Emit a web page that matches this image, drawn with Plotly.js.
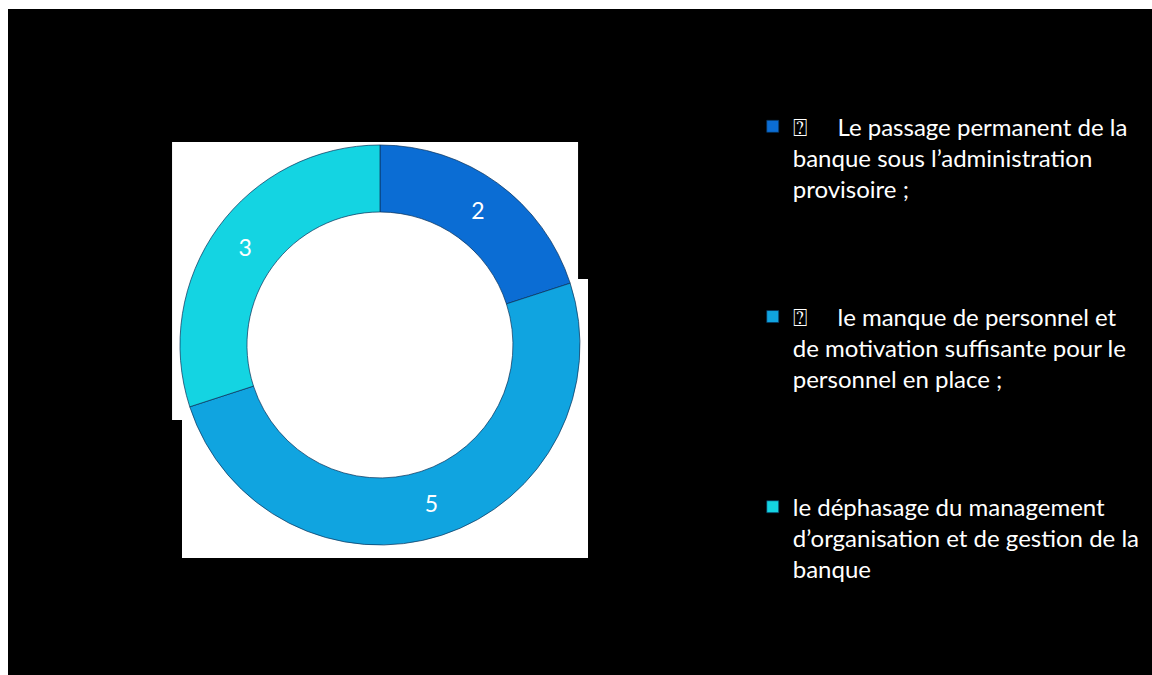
<!DOCTYPE html>
<html>
<head>
<meta charset="utf-8">
<script src="https://cdn.plot.ly/plotly-3.0.1.min.js"></script>
<style>
  html, body { margin: 0; padding: 0; background: #ffffff; }
  #chart { position: absolute; left: 8px; top: 9px; width: 1144px; height: 666px; }
</style>
</head>
<body>
<div id="chart"></div>
<script>
// Data
const categories = [
  "\u2370\u00A0\u00A0\u00A0\u00A0\u00A0Le passage permanent de la<br>banque sous l\u2019administration<br>provisoire ;",
  "\u2370\u00A0\u00A0\u00A0\u00A0\u00A0le manque de personnel et<br>de motivation suffisante pour le<br>personnel en place ;",
  "le d\u00E9phasage du management<br>d\u2019organisation et de gestion de la<br>banque"
];
const values = [2, 5, 3];
const sliceColors = ["#0b6dd4", "#10a4e0", "#14d4e2"];
const legendPad = "<br>\u00A0<br>\u00A0<br>\u00A0";

const trace = {
  type: "pie",
  labels: categories.map((c, i) => i < categories.length - 1 ? c + legendPad : c),
  values: values,
  text: values.map(String),
  textinfo: "text",
  textposition: "inside",
  insidetextorientation: "horizontal",
  textfont: { family: "Lato, 'Open Sans', sans-serif", size: 23, color: "#ffffff" },
  hole: 0.665,
  sort: false,
  direction: "clockwise",
  rotation: 0,
  marker: { colors: sliceColors, line: { color: "rgba(10,50,90,0.7)", width: 1 } },
  domain: { x: [0.1503, 0.5], y: [0.1952, 0.7958] },
  hoverinfo: "label+value"
};

const layout = {
  width: 1144,
  height: 666,
  margin: { l: 0, r: 0, t: 0, b: 0, autoexpand: false },
  paper_bgcolor: "#000000",
  plot_bgcolor: "#000000",
  showlegend: true,
  legend: {
    x: 0.651, xanchor: "left",
    y: 0.857, yanchor: "top",
    valign: "top",
    bgcolor: "rgba(0,0,0,0)",
    font: { family: "Lato, 'Open Sans', sans-serif", size: 24, color: "#ffffff" },
    tracegroupgap: 0
  },
  shapes: [
    { type: "rect", xref: "paper", yref: "paper", layer: "below",
      x0: 0.1434, x1: 0.4983, y0: 0.3829, y1: 0.8003,
      fillcolor: "#ffffff", line: { width: 0 } },
    { type: "rect", xref: "paper", yref: "paper", layer: "below",
      x0: 0.1521, x1: 0.5070, y0: 0.1757, y1: 0.5946,
      fillcolor: "#ffffff", line: { width: 0 } }
  ]
};

Plotly.newPlot("chart", [trace], layout, { displayModeBar: false, responsive: false });
</script>
</body>
</html>
